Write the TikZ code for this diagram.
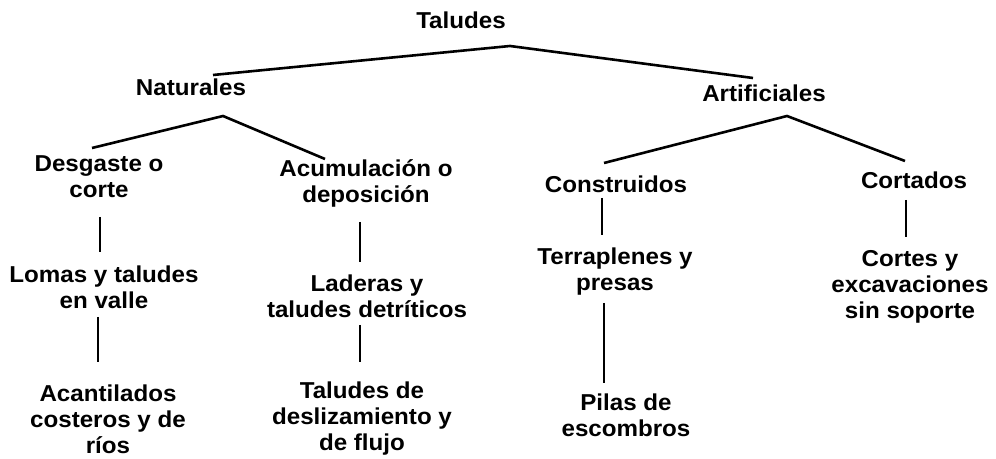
\documentclass[tikz,border=0pt]{standalone}
\usepackage{fontspec}
\setmainfont[FakeStretch=1.05]{Liberation Sans}
\begin{document}
\begin{tikzpicture}[
    x=0.5pt, y=-0.5pt,
    lbl/.style={align=center, inner sep=0pt, font=\fontsize{11.5}{13}\selectfont\bfseries},
    branch/.style={line width=1.3pt}
]
\useasboundingbox (0,0) rectangle (996,459);

% --- Raiz y primer nivel ---
\node[lbl] (taludes) at (461,20) {Taludes};
\node[lbl] (naturales) at (191,87) {Naturales};
\node[lbl] (artificiales) at (764,93) {Artificiales};

% --- Segundo nivel ---
\node[lbl] (desgaste) at (99,177) {Desgaste o\\corte};
\node[lbl] (acumulacion) at (366,183) {Acumulaci\'on o\\deposici\'on};
\node[lbl] (construidos) at (616,184) {Construidos};
\node[lbl] (cortados) at (914,180) {Cortados};

% --- Tercer nivel ---
\node[lbl] (lomas) at (104,287) {Lomas y taludes\\en valle};
\node[lbl] (laderas) at (367,296) {Laderas y\\taludes detr\'iticos};
\node[lbl] (terraplenes) at (615,272) {Terraplenes y\\presas};
\node[lbl] (cortes) at (910,287) {Cortes y\\excavaciones\\sin soporte};

% --- Cuarto nivel ---
\node[lbl] (acantilados) at (108,419) {Acantilados\\costeros y de\\r\'ios};
\node[lbl] (deslizamiento) at (362,419) {Taludes de\\deslizamiento y\\de flujo};
\node[lbl] (pilas) at (626,415) {Pilas de\\escombros};

% === RAMAS ===
\draw[branch] ([shift={(22,-12)}]naturales.center) -- ([shift={(49,26)}]taludes.center)
    -- ([shift={(-11,-15)}]artificiales.center);
\draw[branch] ([shift={(-7,-29)}]desgaste.center) -- ([shift={(32,29)}]naturales.center)
    -- ([shift={(-41,-24)}]acumulacion.center);
\draw[branch] ([shift={(-12,-21)}]construidos.center) -- ([shift={(23,23)}]artificiales.center)
    -- ([shift={(-9,-19)}]cortados.center);

% Enlaces verticales
\draw[branch] ([shift={(1,40)}]desgaste.center) -- ([shift={(-4,-35)}]lomas.center);
\draw[branch] ([shift={(-6,30)}]lomas.center) -- ([shift={(-10,-57)}]acantilados.center);
\draw[branch] ([shift={(-6,39)}]acumulacion.center) -- ([shift={(-7,-34)}]laderas.center);
\draw[branch] ([shift={(-7,29)}]laderas.center) -- ([shift={(-2,-57)}]deslizamiento.center);
\draw[branch] ([shift={(-14,14)}]construidos.center) -- ([shift={(-13,-37)}]terraplenes.center);
\draw[branch] ([shift={(-11,31)}]terraplenes.center) -- ([shift={(-22,-32)}]pilas.center);
\draw[branch] ([shift={(-8,20)}]cortados.center) -- ([shift={(-4,-50)}]cortes.center);

\end{tikzpicture}
\end{document}
